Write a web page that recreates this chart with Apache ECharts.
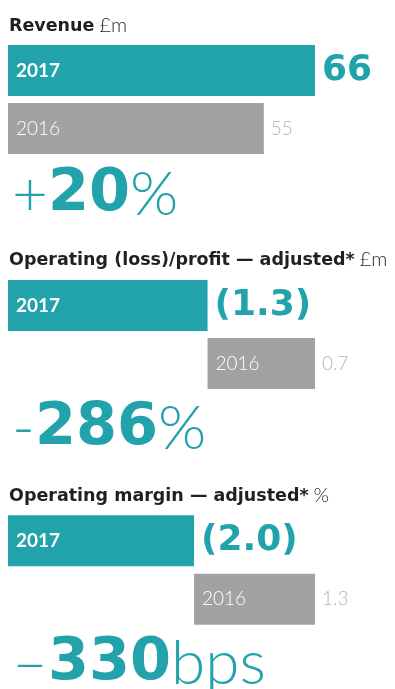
<!DOCTYPE html>
<html>
<head>
<meta charset="utf-8">
<script src="https://cdn.jsdelivr.net/npm/echarts@6/dist/echarts.min.js"></script>
<style>
  html, body { margin: 0; padding: 0; background: #ffffff; }
  #chart { width: 395px; height: 689px; }
</style>
</head>
<body>
<div id="chart"></div>
<script>
// Years shown in each panel (current year first)
const years = ['2017', '2016'];

// Panel headings and units
const panelNames = ['Revenue', 'Operating (loss)/profit \u2014 adjusted*', 'Operating margin \u2014 adjusted*'];
const panelUnits = ['\u00a3m', '\u00a3m', '%'];

// Values per panel: [2017, 2016]
const revenue = [66, 55];
const operatingProfit = [-1.3, 0.7];
const operatingMargin = [-2.0, 1.3];
const decimals = [0, 1, 1];

// Year-on-year change headlines
const changeSigns = ['+', '-', '\u2013'];
const changeValues = ['20', '286', '330'];
const changeUnits = ['%', '%', 'bps'];

const panels = [revenue, operatingProfit, operatingMargin];

const TEAL = '#22a2ab';
const GREY = '#a1a2a4';
const GREY_TEXT = '#b4b4b4';
const DARK = '#231f20';
const BOLD_FONT = 'DejaVu Sans';
const LIGHT_FONT = 'Lato';

const gridTops = [41.5, 276.5, 511.5];
const gridHeights = [116, 116, 117];
const titleTops = [16, 250, 486];
const changeTops = [164, 398, 633];

function formatValue(v, d) {
  const s = Math.abs(v).toFixed(d);
  return v < 0 ? '(' + s + ')' : s;
}

const grid = panels.map((_, i) => ({ left: 8, width: 307, top: gridTops[i], height: gridHeights[i] }));

const xAxis = panels.map((vals, i) => ({
  gridIndex: i,
  type: 'value',
  min: Math.min(0, ...vals),
  max: Math.max(0, ...vals),
  show: false
}));

const yAxis = panels.map((_, i) => ({
  gridIndex: i,
  type: 'category',
  data: years,
  inverse: true,
  show: false
}));

const series = [];
panels.forEach((vals, i) => {
  // coloured bars with the year written inside
  series.push({
    type: 'bar',
    xAxisIndex: i,
    yAxisIndex: i,
    barWidth: 51,
    barGap: '-100%',
    silent: true,
    data: vals.map((v, k) => ({
      value: v,
      itemStyle: { color: k === 0 ? TEAL : GREY },
      label: {
        show: true,
        position: 'insideLeft',
        distance: 8,
        formatter: years[k],
        color: '#ffffff',
        fontFamily: LIGHT_FONT,
        fontWeight: k === 0 ? 700 : 300,
        fontSize: 19
      }
    }))
  });
  // value labels at the end of each bar
  series.push({
    type: 'bar',
    xAxisIndex: i,
    yAxisIndex: i,
    barWidth: 51,
    barGap: '-100%',
    silent: true,
    itemStyle: { color: 'rgba(0,0,0,0)' },
    data: vals.map((v, k) => ({
      value: v,
      label: {
        show: true,
        position: 'right',
        distance: 7,
        formatter: formatValue(v, decimals[i]),
        color: k === 0 ? TEAL : GREY_TEXT,
        fontFamily: k === 0 ? BOLD_FONT : LIGHT_FONT,
        fontWeight: k === 0 ? 'bold' : 300,
        fontSize: k === 0 ? 36 : 19
      }
    }))
  });
});

const titles = [];
panels.forEach((_, i) => {
  titles.push({
    left: 9,
    top: titleTops[i],
    padding: 0,
    text: '{b|' + panelNames[i] + '} {r|' + panelUnits[i] + '}',
    textStyle: {
      rich: {
        b: { fontFamily: BOLD_FONT, fontWeight: 'bold', fontSize: 17.5, color: DARK },
        r: { fontFamily: LIGHT_FONT, fontWeight: 300, fontSize: 20, color: DARK }
      }
    }
  });
  titles.push({
    left: 12,
    top: changeTops[i],
    padding: 0,
    text: '{s|' + changeSigns[i] + '}{n|' + changeValues[i] + '}{u|' + changeUnits[i] + '}',
    textStyle: {
      rich: {
        s: { fontFamily: LIGHT_FONT, fontWeight: 300, fontSize: 62, color: TEAL },
        n: { fontFamily: BOLD_FONT, fontWeight: 'bold', fontSize: 59, color: TEAL },
        u: { fontFamily: LIGHT_FONT, fontWeight: 300, fontSize: 62, color: TEAL }
      }
    }
  });
});

const chart = echarts.init(document.getElementById('chart'), null, { renderer: 'canvas' });
chart.setOption({
  animation: false,
  backgroundColor: '#ffffff',
  title: titles,
  grid: grid,
  xAxis: xAxis,
  yAxis: yAxis,
  series: series
});
</script>
</body>
</html>
